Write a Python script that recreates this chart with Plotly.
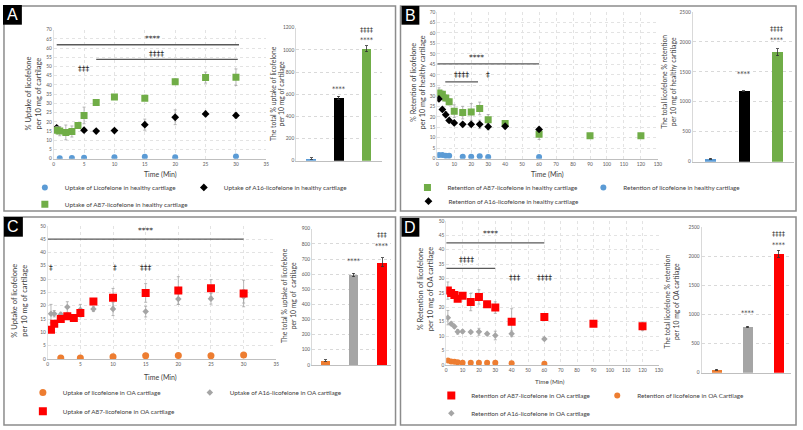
import plotly.graph_objects as go

W, H = 803, 430
FONT = "Lato, 'Open Sans', sans-serif"
TXT = "#404040"

# ---------------- data ----------------
# Panel A : uptake in healthy cartilage
a_lico_t = [1, 3, 5, 10, 15, 20, 30]
a_lico_v = [0.3, 0.4, 0.6, 0.9, 1.1, 0.8, 1.3]
a_lico_e = [0.2, 0.2, 0.3, 0.3, 0.4, 0.3, 0.4]
a_a16_t = [0.5, 5, 7, 10, 15, 20, 25, 30]
a_a16_v = [16.8, 15.5, 15.0, 15.3, 18.5, 22.5, 24.3, 23.5]
a_a16_e = [1.0, 1.0, 0.8, 1.0, 3.0, 4.0, 1.5, 1.5]
a_a87_t = [0.5, 1, 2, 3, 4, 5, 7, 10, 15, 20, 25, 30]
a_a87_v = [15.5, 15.0, 14.3, 14.8, 18.0, 23.5, 30.5, 33.5, 32.8, 41.8, 44.0, 44.2]
a_a87_e = [2.0, 2.5, 4.0, 3.0, 1.0, 4.5, 1.0, 1.0, 1.0, 1.5, 3.0, 4.5]
a_tot_v = [20, 565, 1010]
a_tot_e = [6, 15, 25]

# Panel B : retention in healthy cartilage
b_a87_t = [1, 3, 5, 7, 10, 15, 20, 25, 30, 40, 60, 90, 120]
b_a87_v = [31.3, 30.8, 29.0, 27.2, 22.7, 22.0, 22.3, 24.0, 18.6, 16.8, 11.7, 11.0, 11.0]
b_a87_e = [2.5, 1.5, 1.5, 1.5, 3.0, 3.0, 4.0, 3.0, 2.5, 1.0, 2.5, 0.8, 0.8]
b_a16_t = [1, 3, 5, 7, 10, 15, 20, 25, 30, 40, 60]
b_a16_v = [28.5, 23.5, 21.0, 18.3, 17.1, 16.4, 16.4, 16.4, 15.3, 15.5, 14.0]
b_a16_e = [1.0, 1.0, 1.5, 1.0, 1.0, 1.0, 1.0, 2.0, 1.5, 1.0, 1.0]
b_lico_t = [1, 3, 5, 7, 15, 20, 25, 30, 60]
b_lico_v = [1.8, 1.8, 1.5, 1.4, 1.0, 1.0, 1.2, 0.8, 0.8]
b_lico_e = [0.3, 0.3, 0.3, 0.3, 0.3, 0.3, 0.3, 0.3, 0.3]
b_tot_v = [50, 1175, 1825]
b_tot_e = [10, 10, 60]

# Panel C : uptake in OA cartilage
c_lico_t = [2, 5, 10, 15, 20, 25, 30]
c_lico_v = [0.4, 0.4, 0.8, 1.2, 1.3, 1.2, 1.5]
c_lico_e = [0.2, 0.2, 0.3, 0.3, 0.3, 0.3, 0.3]
c_a16_t = [0.5, 1, 2, 3, 5, 7, 10, 15, 20, 25, 30]
c_a16_v = [17.0, 17.0, 16.7, 19.5, 18.5, 18.8, 18.8, 17.8, 22.5, 22.6, 23.5]
c_a16_e = [3.5, 1.2, 0.8, 2.0, 2.0, 1.0, 2.5, 2.0, 2.0, 2.0, 2.5]
c_a87_t = [0.5, 1, 2, 3, 4, 5, 7, 10, 15, 20, 25, 30]
c_a87_v = [11.0, 13.2, 15.0, 16.0, 15.4, 17.3, 21.6, 23.0, 24.8, 25.7, 26.6, 24.6]
c_a87_e = [0.5, 0.8, 0.8, 1.0, 0.5, 1.5, 0.5, 3.5, 3.5, 5.2, 3.2, 5.0]
c_tot_v = [30, 595, 678]
c_tot_e = [5, 12, 30]

# Panel D : retention in OA cartilage
d_a87_t = [1, 3, 5, 7, 10, 15, 20, 25, 30, 40, 60, 90, 120]
d_a87_v = [25.8, 25.0, 24.3, 23.0, 24.0, 21.8, 23.6, 21.1, 19.9, 15.0, 16.6, 14.3, 13.4]
d_a87_e = [3.0, 1.0, 1.0, 1.0, 0.5, 3.0, 2.5, 1.0, 2.0, 4.5, 1.0, 0.5, 1.5]
d_a16_t = [1, 3, 5, 7, 10, 15, 20, 25, 30, 40, 60]
d_a16_v = [16.4, 14.3, 13.3, 11.5, 11.6, 11.4, 11.5, 10.8, 10.2, 10.8, 9.0]
d_a16_e = [2.5, 0.5, 0.5, 0.8, 0.5, 0.5, 1.2, 0.5, 1.5, 1.0, 0.5]
d_lico_t = [1, 3, 5, 7, 10, 15, 20, 25, 30, 40, 60]
d_lico_v = [1.5, 1.2, 1.1, 0.9, 0.7, 0.7, 0.7, 0.7, 0.7, 0.6, 0.4]
d_lico_e = [0.2] * 11
d_tot_v = [50, 785, 2035]
d_tot_e = [10, 15, 60]

bar_cats = ["licofelone", "A16-licofelone", "A87-licofelone"]

# significance bars (x0, x1, y) and labels (text, x, y) in data units
a_sig_lines = [(0.5, 30.5, 61.8), (7, 30.3, 53.9)]
a_sig_text = [("****", 16.3, 65.2), ("‡‡‡‡", 17.0, 57.2), ("‡‡‡", 5.0, 49.0)]
b_sig_lines = [(0, 60, 45.2), (4.7, 24, 36.6)]
b_sig_text = [("****", 23, 48.4), ("‡‡‡‡", 14.2, 40.2), ("‡", 30, 40.2)]
c_sig_lines = [(0, 30, 45.0)]
c_sig_text = [("****", 15.0, 48.4), ("‡", 0.5, 34.2), ("‡", 10.3, 34.2), ("‡‡‡", 15.0, 34.2)]
d_sig_lines = [(0, 60, 42.4), (0, 30, 33.5)]
d_sig_text = [("****", 27, 45.6), ("‡‡‡‡", 12.5, 36.6), ("‡‡‡", 42, 30.5), ("‡‡‡‡", 60, 30.5)]

a_bar_text = [("****", 1, 648), ("****", 2, 1085), ("‡‡‡‡", 2, 1175)]
b_bar_text = [("****", 1, 1456), ("****", 2, 2030), ("‡‡‡‡", 2, 2215)]
c_bar_text = [("****", 1, 685), ("****", 2, 784), ("‡‡‡", 2, 862)]
d_bar_text = [("****", 1, 1023), ("****", 2, 2190), ("‡‡‡‡", 2, 2380)]

# colours
BLUE, BLACK, GREEN = "#5b9bd5", "#000000", "#70ad47"
ORANGE, GREY, RED = "#ed7d31", "#a5a5a5", "#ff0000"
ERR = "#a6a6a6"

# ---------------- helpers ----------------
def dx(p0, p1):
    return [p0 / W, p1 / W]

def dy(top, bottom):
    return [1 - bottom / H, 1 - top / H]

fig = go.Figure()

def scat(t, v, e, name, color, symbol, size, ax, leg):
    fig.add_trace(go.Scatter(
        x=t, y=v, mode="markers", name=name,
        marker=dict(color=color, symbol=symbol, size=size, line=dict(width=0)),
        error_y=dict(type="data", array=e, color=ERR, thickness=0.8, width=1.5),
        xaxis="x" + ax, yaxis="y" + ax, legend=leg, showlegend=True))

def bars(v, e, colors, width, ax):
    fig.add_trace(go.Bar(
        x=[0, 1, 2], y=v, marker=dict(color=colors, line=dict(width=0)), width=width,
        error_y=dict(type="data", array=e, color="#333333", thickness=0.8, width=1.5),
        xaxis="x" + ax, yaxis="y" + ax, showlegend=False,
        hovertext=bar_cats))

# Panel A
scat(a_lico_t, a_lico_v, a_lico_e, "Uptake of Licofelone in healthy cartilage", BLUE, "circle", 6, "", "legend")
scat(a_a16_t, a_a16_v, a_a16_e, "Uptake of A16-licofelone in healthy cartilage", BLACK, "diamond", 6, "", "legend2")
scat(a_a87_t, a_a87_v, a_a87_e, "Uptake of A87-licofelone in healthy cartilage", GREEN, "square", 7, "", "legend3")
bars(a_tot_v, a_tot_e, [BLUE, BLACK, GREEN], 0.35, "2")
# Panel B
scat(b_a87_t, b_a87_v, b_a87_e, "Retention of A87-licofelone in healthy cartilage", GREEN, "square", 7, "3", "legend4")
scat(b_lico_t, b_lico_v, b_lico_e, "Retention of licofelone in healthy cartilage", BLUE, "circle", 6, "3", "legend5")
scat(b_a16_t, b_a16_v, b_a16_e, "Retention of A16-licofelone in healthy cartilage", BLACK, "diamond", 6, "3", "legend6")
bars(b_tot_v, b_tot_e, [BLUE, BLACK, GREEN], 0.33, "4")
# Panel C
scat(c_lico_t, c_lico_v, c_lico_e, "Uptake of licofelone in OA cartilage", ORANGE, "circle", 7, "5", "legend7")
scat(c_a16_t, c_a16_v, c_a16_e, "Uptake of A16-licofelone in OA cartilage", GREY, "diamond", 5, "5", "legend8")
scat(c_a87_t, c_a87_v, c_a87_e, "Uptake of A87-licofelone in OA cartilage", RED, "square", 8, "5", "legend9")
bars(c_tot_v, c_tot_e, [ORANGE, GREY, RED], 0.33, "6")
# Panel D
scat(d_a87_t, d_a87_v, d_a87_e, "Retention of A87-licofelone in OA cartilage", RED, "square", 8, "7", "legend10")
scat(d_lico_t, d_lico_v, d_lico_e, "Retention of licofelone in OA Cartilage", ORANGE, "circle", 6, "7", "legend11")
scat(d_a16_t, d_a16_v, d_a16_e, "Retention of A16-licofelone in OA cartilage", GREY, "diamond", 5, "7", "legend12")
bars(d_tot_v, d_tot_e, [ORANGE, GREY, RED], 0.32, "8")

# ---------------- axes ----------------
tickf = dict(size=4.8, color="#595959", family=FONT)

def sx(dom, rng, dt, anchor):
    return dict(domain=dom, range=rng, dtick=dt, tick0=0, showgrid=True, gridcolor="#e3e3e3",
                griddash="dot", zeroline=False, showline=True, linecolor="#bfbfbf", ticks="",
                tickfont=tickf, anchor=anchor, fixedrange=True)

def sy(dom, rng, dt, anchor):
    return dict(domain=dom, range=rng, dtick=dt, tick0=0, showgrid=True, gridcolor="#e3e3e3",
                griddash="dot", zeroline=False, showline=True, linecolor="#e3e3e3", ticks="",
                tickfont=tickf, anchor=anchor, fixedrange=True)

def bx(dom, rng, anchor):
    return dict(domain=dom, range=rng, showgrid=False, zeroline=False, showline=True,
                linecolor="#bfbfbf", showticklabels=False, ticks="", anchor=anchor, fixedrange=True)

def by(dom, rng, dt, anchor):
    return dict(domain=dom, range=rng, dtick=dt, tick0=0, showgrid=True, gridcolor="#d9d9d9",
                griddash="dot", zeroline=False, showline=True, linecolor="#d9d9d9", ticks="",
                tickfont=tickf, anchor=anchor, fixedrange=True)

layout_axes = dict(
    xaxis=sx(dx(53, 267), [0, 35], 5, "y"), yaxis=sy(dy(27, 158), [0, 70], 5, "x"),
    xaxis2=bx(dx(297, 383), [-0.54, 2.54], "y2"), yaxis2=by(dy(25, 160), [0, 1200], 200, "x2"),
    xaxis3=sx(dx(439, 661), [0, 130], 10, "y3"), yaxis3=sy(dy(9, 158), [0, 70], 5, "x3"),
    xaxis4=bx(dx(696, 798), [-0.54, 2.51], "y4"), yaxis4=by(dy(9, 161), [0, 2500], 500, "x4"),
    xaxis5=sx(dx(47, 277), [0, 35], 5, "y5"), yaxis5=sy(dy(226, 361), [0, 50], 5, "x5"),
    xaxis6=bx(dx(313, 392), [-0.48, 2.3], "y6"), yaxis6=by(dy(229, 367), [0, 900], 100, "x6"),
    xaxis7=sx(dx(448, 662), [0, 130], 10, "y7"), yaxis7=sy(dy(221, 367), [0, 50], 5, "x7"),
    xaxis8=bx(dx(705, 795), [-0.48, 2.4], "y8"), yaxis8=by(dy(227, 375), [0, 2500], 500, "x8"),
)

# ---------------- shapes & annotations ----------------
shapes = []
ann = []

# panel frames
for (x0, y0, x1, y1) in [(3, 3, 397, 211), (402, 3, 800, 211), (3, 217, 397, 428), (402, 217, 800, 428)]:
    shapes.append(dict(type="rect", xref="paper", yref="paper", x0=x0 / W, x1=x1 / W,
                       y0=1 - y1 / H, y1=1 - y0 / H, line=dict(color="#8c8c8c", width=1.5)))
# panel letters
for (lab, x0, y0, x1, y1) in [("A", 2, 2, 21, 22), ("B", 403, 3, 421, 22),
                              ("C", 3, 217, 22, 237), ("D", 403, 218, 421, 237)]:
    shapes.append(dict(type="rect", xref="paper", yref="paper", x0=x0 / W, x1=x1 / W,
                       y0=1 - y1 / H, y1=1 - y0 / H, fillcolor="black", line=dict(width=0)))
    ann.append(dict(text=lab, xref="paper", yref="paper", x=(x0 + x1) / 2 / W, y=1 - (y0 + y1) / 2 / H,
                    showarrow=False, font=dict(size=16, color="white", family="Liberation Sans"),
                    xanchor="center", yanchor="middle"))

def sig(lines, texts, ax, tsize=7.5):
    for (x0, x1, y) in lines:
        shapes.append(dict(type="line", xref="x" + ax, yref="y" + ax, x0=x0, x1=x1, y0=y, y1=y,
                           line=dict(color="#595959", width=1.3)))
    for (t, x, y) in texts:
        ann.append(dict(text=t, xref="x" + ax, yref="y" + ax, x=x, y=y, showarrow=False,
                        font=dict(size=tsize, color="#262626", family="DejaVu Sans"),
                        xanchor="center", yanchor="middle"))

sig(a_sig_lines, a_sig_text, "")
sig(b_sig_lines, b_sig_text, "3")
sig(c_sig_lines, c_sig_text, "5")
sig(d_sig_lines, d_sig_text, "7")
sig([], a_bar_text, "2", 6.5)
sig([], b_bar_text, "4", 6.5)
sig([], c_bar_text, "6", 6.5)
sig([], d_bar_text, "8", 6.5)

def ytitle(text, x, y, size=7.5):
    ann.append(dict(text=text, xref="paper", yref="paper", x=x / W, y=1 - y / H, textangle=-90,
                    showarrow=False, font=dict(size=size, color=TXT, family=FONT),
                    xanchor="center", yanchor="middle"))

def xtitle(text, x, y, size=7):
    ann.append(dict(text=text, xref="paper", yref="paper", x=x / W, y=1 - y / H,
                    showarrow=False, font=dict(size=size, color=TXT, family=FONT),
                    xanchor="center", yanchor="middle"))

ytitle("% Uptake of licofelone<br>per 10 mg of cartilage", 33, 92)
ytitle("The total % uptake of licofelone<br>per 10 mg of cartilage", 278, 92, 6.8)
ytitle("% Retention of licofelone<br>per 10 mg of healthy cartilage", 419, 80, 7.2)
ytitle("The total licofelone % retention<br>per 10 mg of healthy cartilage", 672, 80, 6.8)
ytitle("% Uptake of licofelone<br>per 10 mg of cartilage", 19, 302)
ytitle("The total % uptake of licofelone<br>per 10 mg of  cartilage", 290, 297, 6.8)
ytitle("% Retention of licofelone<br>per 10 mg of OA cartilage", 428, 290)
ytitle("The total licofelone % retention<br>per 10 mg of OA cartilage", 675, 303, 6.8)
xtitle("Time (Min)", 160, 174)
xtitle("Time (Min)", 550, 174)
xtitle("Time (Min)", 160, 380)
xtitle("Time (Min)", 552, 384, 6.3)

# ---------------- legends ----------------
legpos = {
    "legend": (57, 187), "legend2": (217, 187), "legend3": (57, 204),
    "legend4": (442, 187), "legend5": (619, 187), "legend6": (443, 201),
    "legend7": (55, 395), "legend8": (223, 395), "legend9": (55, 414),
    "legend10": (466, 398), "legend11": (633, 398), "legend12": (466, 416),
}
legends = {}
for k, (mx, my) in legpos.items():
    legends[k] = dict(x=(mx - 33) / W, y=1 - my / H, xanchor="left", yanchor="middle",
                      bgcolor="rgba(0,0,0,0)", borderwidth=0, itemwidth=30,
                      font=dict(size=6.3, color=TXT, family=FONT))

fig.update_layout(
    width=W, height=H, margin=dict(l=0, r=0, t=0, b=0),
    paper_bgcolor="white", plot_bgcolor="white",
    font=dict(family=FONT, color=TXT),
    shapes=shapes, annotations=ann, bargap=0,
    **layout_axes, **legends,
)

fig.write_html("out.html")
